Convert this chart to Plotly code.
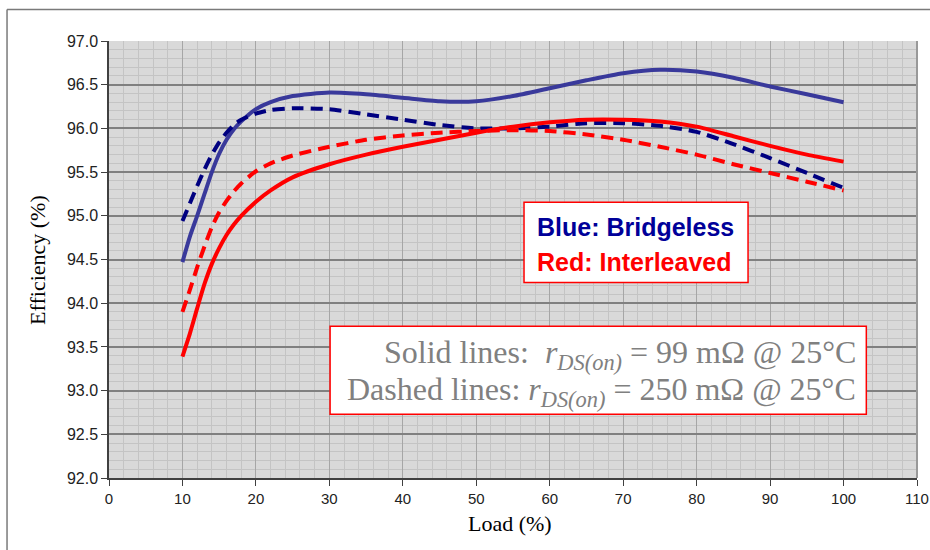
import plotly.graph_objects as go

load = [10, 11, 12, 13, 14, 15, 16, 17, 18, 20, 22, 25, 30, 35, 40, 45, 50, 55, 60, 65, 70, 75, 80, 85, 90, 95, 100]

bridgeless_solid = [94.47, 94.76, 95.00, 95.25, 95.50, 95.71, 95.87, 95.99, 96.08, 96.22, 96.30, 96.37, 96.41, 96.39, 96.35,
                    96.31, 96.31, 96.37, 96.46, 96.55, 96.63, 96.67, 96.65, 96.58, 96.48, 96.39, 96.30]
bridgeless_dashed = [94.94, 95.14, 95.34, 95.53, 95.70, 95.84, 95.95, 96.04, 96.10, 96.17, 96.21, 96.23, 96.22, 96.16, 96.10,
                     96.04, 96.00, 96.00, 96.02, 96.06, 96.06, 96.03, 95.96, 95.82, 95.66, 95.49, 95.32]
interleaved_solid = [93.39, 93.65, 93.94, 94.22, 94.45, 94.63, 94.78, 94.90, 95.00, 95.16, 95.29, 95.44, 95.59, 95.70, 95.79,
                     95.87, 95.95, 96.02, 96.07, 96.10, 96.10, 96.08, 96.02, 95.91, 95.80, 95.70, 95.62]
interleaved_dashed = [93.90, 94.15, 94.41, 94.65, 94.87, 95.04, 95.17, 95.28, 95.37, 95.51, 95.60, 95.69, 95.79, 95.87, 95.92,
                      95.95, 95.97, 95.98, 95.97, 95.93, 95.87, 95.79, 95.70, 95.59, 95.49, 95.39, 95.29]

x_ticks = [0, 10, 20, 30, 40, 50, 60, 70, 80, 90, 100, 110]
y_ticks = [92.0, 92.5, 93.0, 93.5, 94.0, 94.5, 95.0, 95.5, 96.0, 96.5, 97.0]

fig = go.Figure()
series = [
    (bridgeless_solid, "#39399b", "solid"),
    (bridgeless_dashed, "#000080", "12px,7px"),
    (interleaved_solid, "#ff0000", "solid"),
    (interleaved_dashed, "#ff0000", "12px,7px"),
]
for ys, col, dash in series:
    fig.add_trace(go.Scatter(x=load, y=ys, mode="lines",
                             line=dict(color=col, width=4, dash=dash, shape="spline", smoothing=0.6),
                             showlegend=False, hoverinfo="skip"))

fig.update_layout(
    width=930, height=550, autosize=False,
    margin=dict(l=109, r=13, t=41, b=72),
    paper_bgcolor="white", plot_bgcolor="#d9d9d9",
    showlegend=False,
    xaxis=dict(range=[0, 110], tickvals=x_ticks, ticktext=[str(v) for v in x_ticks],
               automargin=False,
               showgrid=True, gridcolor="#a6a6a6", gridwidth=1,
               minor=dict(dtick=2, tick0=0, showgrid=True, gridcolor="#c4c4c4", gridwidth=1),
               showline=True, linecolor="#404040", linewidth=1.5,
               ticks="outside", ticklen=6, tickcolor="#404040",
               tickfont=dict(family="Liberation Sans Narrow, Arial Narrow, Liberation Sans", size=15, color="#222222"),
               zeroline=False, fixedrange=True),
    yaxis=dict(range=[92, 97], tickvals=y_ticks, ticktext=[f"{v:.1f}" for v in y_ticks],
               automargin=False,
               showgrid=True, gridcolor="#808080", gridwidth=1.5,
               minor=dict(dtick=0.1, tick0=92, showgrid=True, gridcolor="#c4c4c4", gridwidth=1),
               showline=True, linecolor="#404040", linewidth=1.5,
               ticks="outside", ticklen=6, tickcolor="#404040",
               tickfont=dict(family="Liberation Sans, Arial", size=16, color="#222222"),
               zeroline=False, fixedrange=True),
)

# outer frame (top and left edges)
fig.add_shape(type="line", xref="paper", yref="paper", x0=-0.1262, x1=1.05, y0=1.0722, y1=1.0722,
              line=dict(color="#7a7a7a", width=1.5))
fig.add_shape(type="line", xref="paper", yref="paper", x0=-0.1262, x1=-0.1262, y0=1.0722, y1=-0.2,
              line=dict(color="#7a7a7a", width=1.5))
# right border of plot area
fig.add_shape(type="line", xref="paper", yref="paper", x0=1, x1=1, y0=0, y1=1,
              line=dict(color="#999999", width=2))

# legend-like box
fig.add_shape(type="rect", xref="x", yref="y", x0=56.5, x1=87.0, y0=94.236, y1=95.154,
              fillcolor="white", line=dict(color="#ff0000", width=1.5), layer="above")
fig.add_annotation(x=58.0, y=94.876, xref="x", yref="y", xanchor="left", yanchor="middle", showarrow=False,
                   text="<b>Blue: Bridgeless</b>",
                   font=dict(family="Liberation Sans, Arial", size=25, color="#000099"))
fig.add_annotation(x=58.0, y=94.475, xref="x", yref="y", xanchor="left", yanchor="middle", showarrow=False,
                   text="<b>Red: Interleaved</b>",
                   font=dict(family="Liberation Sans, Arial", size=25, color="#ff0000"))

# rDS(on) box
fig.add_shape(type="rect", xref="x", yref="y", x0=30.1, x1=103.1, y0=92.728, y1=93.737,
              fillcolor="white", line=dict(color="#ff0000", width=1.5), layer="above")
fig.add_annotation(x=102.0, y=93.41, xref="x", yref="y", xanchor="right", yanchor="middle", showarrow=False,
                   text="Solid lines:  <i>r</i><sub><i>DS(on)</i></sub> = 99 mΩ @ 25°C",
                   font=dict(family="Liberation Serif, Times New Roman", size=32, color="#808080"))
fig.add_annotation(x=102.0, y=92.985, xref="x", yref="y", xanchor="right", yanchor="middle", showarrow=False,
                   text="Dashed lines: <i>r</i><sub><i>DS(on)</i></sub> = 250 mΩ @ 25°C",
                   font=dict(family="Liberation Serif, Times New Roman", size=32, color="#808080"))

# axis titles
fig.add_annotation(x=-0.0879, y=0.499, xref="paper", yref="paper", xanchor="center", yanchor="middle",
                   showarrow=False, textangle=-90, text="Efficiency (%)",
                   font=dict(family="Liberation Serif, Times New Roman", size=22, color="black"))
fig.add_annotation(x=0.496, y=-0.104, xref="paper", yref="paper", xanchor="center", yanchor="middle",
                   showarrow=False, text="Load (%)",
                   font=dict(family="Liberation Serif, Times New Roman", size=22, color="black"))

fig.write_html("out.html", config={"responsive": False, "displayModeBar": False},
               post_script="document.body.style.margin='0';document.body.style.overflow='hidden';")
